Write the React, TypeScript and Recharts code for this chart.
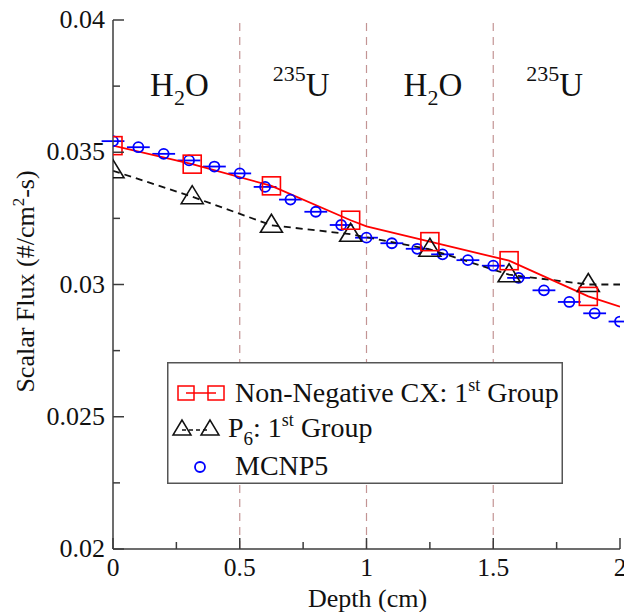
import {
  ComposedChart,
  ErrorBar,
  Legend,
  Line,
  ReferenceLine,
  Scatter,
  XAxis,
  YAxis,
} from "recharts";

const FONT = '"Liberation Serif", "DejaVu Serif", serif';
const AXIS_COLOR = "#3c3c3c";

const depthMajorTicks = [0, 0.5, 1, 1.5, 2];
const depthMinorTicks = [0.25, 0.75, 1.25, 1.75];
const depthTickLabels = ["0", "0.5", "1", "1.5", "2"];

const fluxMajorTicks = [0.02, 0.025, 0.03, 0.035, 0.04];
const fluxMinorTicks = [0.0225, 0.0275, 0.0325, 0.0375];
const fluxTickLabels = ["0.02", "0.025", "0.03", "0.035", "0.04"];

const regionEdges = [0.5, 1, 1.5];
const regionCenters = [0.25, 0.75, 1.25, 1.75];
const regionKinds = ["water", "uranium", "water", "uranium"];

// Non-Negative CX, 1st group: markers and the curve behind them
const cxDepth = [0, 0.3125, 0.625, 0.9375, 1.25, 1.5625, 1.875];
const cxFlux = [0.03525, 0.03455, 0.03373, 0.03243, 0.03162, 0.0309, 0.02955];
const cxCurveDepth = [0, 0.3125, 0.625, 0.9375, 1, 1.25, 1.5625, 1.875, 2];
const cxCurveFlux = [0.03525, 0.03455, 0.03373, 0.03243, 0.0322, 0.03162, 0.0309, 0.02955, 0.02916];

// P6, 1st group
const p6Depth = [0, 0.3125, 0.625, 0.9375, 1.25, 1.5625, 1.875];
const p6Flux = [0.0343, 0.03332, 0.03224, 0.0319, 0.03133, 0.03037, 0.03];
const p6CurveDepth = [0, 0.3125, 0.625, 0.9375, 1.25, 1.5625, 1.875, 2];
const p6CurveFlux = [0.0343, 0.03332, 0.03224, 0.0319, 0.03133, 0.03037, 0.03, 0.03];

// MCNP5 tallies
const mcnpDepth = [0, 0.1, 0.2, 0.3, 0.4, 0.5, 0.6, 0.7, 0.8, 0.9, 1, 1.1, 1.2, 1.3, 1.4, 1.5, 1.6, 1.7, 1.8, 1.9, 2];
const mcnpFlux = [
  0.03542, 0.03519, 0.03494, 0.03469, 0.03446, 0.0342, 0.03369, 0.03321, 0.03275, 0.03225, 0.03177,
  0.03156, 0.03135, 0.03114, 0.03092, 0.03071, 0.03025, 0.02978, 0.02934, 0.02891, 0.0286,
];
const mcnpBinHalfWidth = 0.045;

const cxPoints = cxDepth.map((depth, i) => ({ depth, flux: cxFlux[i] }));
const cxCurve = cxCurveDepth.map((depth, i) => ({ depth, flux: cxCurveFlux[i] }));
const p6Points = p6Depth.map((depth, i) => ({ depth, flux: p6Flux[i] }));
const p6Curve = p6CurveDepth.map((depth, i) => ({ depth, flux: p6CurveFlux[i] }));
const mcnpPoints = mcnpDepth.map((depth, i) => ({ depth, flux: mcnpFlux[i], err: mcnpBinHalfWidth }));

const depthTicks = [...depthMajorTicks, ...depthMinorTicks].sort((a, b) => a - b);
const fluxTicks = [...fluxMajorTicks, ...fluxMinorTicks].sort((a, b) => a - b);

interface TickProps {
  x?: number;
  y?: number;
  payload?: { value?: number };
}

function BottomTick({ x = 0, y = 0, payload }: TickProps) {
  const i = depthMajorTicks.indexOf(payload?.value as number);
  return (
    <g>
      <line x1={x} x2={x} y1={y} y2={y - (i >= 0 ? 11 : 7)} stroke={AXIS_COLOR} strokeWidth={1.5} />
      {i >= 0 && (
        <text x={x} y={y + 27} textAnchor="middle" fontFamily={FONT} fontSize={25.5} fill="#111">
          {depthTickLabels[i]}
        </text>
      )}
    </g>
  );
}

function TopTick({ x = 0, y = 0, payload }: TickProps) {
  const major = depthMajorTicks.includes(payload?.value as number);
  return <line x1={x} x2={x} y1={y} y2={y + (major ? 11 : 7)} stroke={AXIS_COLOR} strokeWidth={1.5} />;
}

function LeftTick({ x = 0, y = 0, payload }: TickProps) {
  const i = fluxMajorTicks.indexOf(payload?.value as number);
  return (
    <g>
      <line x1={x} x2={x + (i >= 0 ? 11 : 7)} y1={y} y2={y} stroke={AXIS_COLOR} strokeWidth={1.5} />
      {i >= 0 && (
        <text x={x - 8} y={y + 8} textAnchor="end" fontFamily={FONT} fontSize={26} fill="#111">
          {fluxTickLabels[i]}
        </text>
      )}
    </g>
  );
}

function RightTick({ x = 0, y = 0, payload }: TickProps) {
  const major = fluxMajorTicks.includes(payload?.value as number);
  return <line x1={x} x2={x - (major ? 11 : 7)} y1={y} y2={y} stroke={AXIS_COLOR} strokeWidth={1.5} />;
}

interface ViewBoxProps {
  viewBox?: { x?: number; y?: number; width?: number; height?: number };
}

function XTitle({ viewBox }: ViewBoxProps) {
  const { x = 0, y = 0, width = 0 } = viewBox ?? {};
  return (
    <text x={x + width / 2 + 1} y={y + 58} textAnchor="middle" fontFamily={FONT} fontSize={26} fill="#111">
      Depth (cm)
    </text>
  );
}

function YTitle({ viewBox }: ViewBoxProps) {
  const { y = 0, height = 0 } = viewBox ?? {};
  const cy = y + height / 2 - 3;
  return (
    <text
      x={34}
      y={cy}
      transform={`rotate(-90, 34, ${cy})`}
      textAnchor="middle"
      fontFamily={FONT}
      fontSize={26}
      fill="#111"
    >
      Scalar Flux (#/cm
      <tspan fontSize={17} dy={-10}>2</tspan>
      <tspan dy={10}>-s)</tspan>
    </text>
  );
}

function RegionLabel({ viewBox, kind }: ViewBoxProps & { kind?: string }) {
  const { x = 0, y = 0 } = viewBox ?? {};
  const base = y + 76;
  if (kind === "water") {
    return (
      <text x={x + 3} y={base} textAnchor="middle" fontFamily={FONT} fontSize={33} fill="#111">
        H
        <tspan fontSize={22} dy={9}>2</tspan>
        <tspan dy={-9}>O</tspan>
      </text>
    );
  }
  return (
    <text x={x - 2} y={base} textAnchor="middle" fontFamily={FONT} fontSize={33} fill="#111">
      <tspan fontSize={22} dy={-15}>235</tspan>
      <tspan dy={15}>U</tspan>
    </text>
  );
}

function FluxLegend() {
  return (
    <svg width={396} height={122} style={{ display: "block" }}>
      <rect x={0.75} y={0.75} width={394.5} height={120.5} fill="#fff" stroke="#555" strokeWidth={1.5} />
      <line x1={19} x2={49} y1={31} y2={31} stroke="#ff0000" strokeWidth={1.5} />
      <rect x={11} y={24} width={16} height={14} fill="none" stroke="#ff0000" strokeWidth={1.5} />
      <rect x={41} y={24} width={16} height={14} fill="none" stroke="#ff0000" strokeWidth={1.5} />
      <text x={68} y={40} fontFamily={FONT} fontSize={28} fill="#111">
        Non-Negative CX: 1<tspan fontSize={18} dy={-11}>st</tspan>
        <tspan dy={11}> Group</tspan>
      </text>
      <line x1={15} x2={43} y1={68} y2={68} stroke="#111" strokeWidth={1.5} strokeDasharray="4 3" />
      <path d="M15 58 L6 73 L24 73 Z" fill="none" stroke="#111" strokeWidth={1.5} />
      <path d="M43 58 L34 73 L52 73 Z" fill="none" stroke="#111" strokeWidth={1.5} />
      <text x={61} y={75} fontFamily={FONT} fontSize={28} fill="#111">
        P<tspan fontSize={19} dy={8}>6</tspan>
        <tspan dy={-8}>: 1</tspan>
        <tspan fontSize={18} dy={-11}>st</tspan>
        <tspan dy={11}> Group</tspan>
      </text>
      <circle cx={33} cy={105} r={5} fill="none" stroke="#0000ff" strokeWidth={1.8} />
      <text x={68} y={113} fontFamily={FONT} fontSize={28} fill="#111">
        MCNP5
      </text>
    </svg>
  );
}

interface ShapeProps {
  cx?: number;
  cy?: number;
}

function SquareMark({ cx = 0, cy = 0 }: ShapeProps) {
  return <rect x={cx - 9} y={cy - 9} width={18} height={18} fill="none" stroke="#ff0000" strokeWidth={1.6} />;
}

function TriangleMark({ cx = 0, cy = 0 }: ShapeProps) {
  return (
    <path
      d={`M${cx} ${cy - 11} L${cx - 11} ${cy + 7} L${cx + 11} ${cy + 7} Z`}
      fill="none"
      stroke="#111"
      strokeWidth={1.6}
    />
  );
}

function CircleMark({ cx = 0, cy = 0 }: ShapeProps) {
  return <circle cx={cx} cy={cy} r={5} fill="none" stroke="#0000ff" strokeWidth={1.8} />;
}

export default function App() {
  return (
    <div style={{ position: "absolute", left: 0, top: 0, width: 624, height: 612, background: "#fff" }}>
      <ComposedChart width={624} height={612} margin={{ top: 20, right: 4, bottom: 0, left: 0 }}>
        <XAxis
          xAxisId="bottom"
          type="number"
          dataKey="depth"
          domain={[0, 2]}
          ticks={depthTicks}
          interval={0}
          allowDataOverflow
          height={63}
          tickSize={0}
          tickMargin={0}
          axisLine={{ stroke: AXIS_COLOR, strokeWidth: 1.5 }}
          tick={<BottomTick />}
          label={<XTitle />}
        />
        <XAxis
          xAxisId="top"
          orientation="top"
          type="number"
          dataKey="depth"
          domain={[0, 2]}
          ticks={depthTicks}
          interval={0}
          allowDataOverflow
          height={0}
          tickSize={0}
          tickMargin={0}
          axisLine={{ stroke: AXIS_COLOR, strokeWidth: 1.5 }}
          tick={<TopTick />}
        />
        <YAxis
          yAxisId="left"
          type="number"
          domain={[0.02, 0.04]}
          ticks={fluxTicks}
          interval={0}
          allowDataOverflow
          width={113}
          tickSize={0}
          tickMargin={0}
          axisLine={{ stroke: AXIS_COLOR, strokeWidth: 1.5 }}
          tick={<LeftTick />}
          label={<YTitle />}
        />
        <YAxis
          yAxisId="right"
          orientation="right"
          type="number"
          domain={[0.02, 0.04]}
          ticks={fluxTicks}
          interval={0}
          allowDataOverflow
          width={0}
          tickSize={0}
          tickMargin={0}
          axisLine={{ stroke: AXIS_COLOR, strokeWidth: 1.5 }}
          tick={<RightTick />}
        />

        {regionEdges.map((edge) => (
          <ReferenceLine
            key={`edge-${edge}`}
            xAxisId="bottom"
            yAxisId="left"
            x={edge}
            stroke="#c39494"
            strokeWidth={1.2}
            strokeDasharray="8 6"
          />
        ))}
        {regionCenters.map((center, i) => (
          <ReferenceLine
            key={`region-${center}`}
            xAxisId="bottom"
            yAxisId="left"
            x={center}
            strokeOpacity={0}
            label={<RegionLabel kind={regionKinds[i]} />}
          />
        ))}

        <Scatter
          name="MCNP5"
          data={mcnpPoints}
          dataKey="flux"
          xAxisId="bottom"
          yAxisId="left"
          shape={<CircleMark />}
          isAnimationActive={false}
        >
          <ErrorBar dataKey="err" direction="x" width={0} stroke="#0000ff" strokeWidth={1.8} isAnimationActive={false} />
        </Scatter>

        <Line
          data={p6Curve}
          dataKey="flux"
          xAxisId="bottom"
          yAxisId="left"
          type="linear"
          stroke="#111"
          strokeWidth={1.8}
          strokeDasharray="7 5"
          dot={false}
          activeDot={false}
          legendType="none"
          isAnimationActive={false}
        />
        <Scatter
          name="P6"
          data={p6Points}
          dataKey="flux"
          xAxisId="bottom"
          yAxisId="left"
          shape={<TriangleMark />}
          isAnimationActive={false}
        />

        <Line
          data={cxCurve}
          dataKey="flux"
          xAxisId="bottom"
          yAxisId="left"
          type="linear"
          stroke="#ff0000"
          strokeWidth={1.8}
          dot={false}
          activeDot={false}
          legendType="none"
          isAnimationActive={false}
        />
        <Scatter
          name="Non-Negative CX"
          data={cxPoints}
          dataKey="flux"
          xAxisId="bottom"
          yAxisId="left"
          shape={<SquareMark />}
          isAnimationActive={false}
        />

        <Legend
          layout="vertical"
          align="center"
          verticalAlign="middle"
          content={<FluxLegend />}
          wrapperStyle={{ left: 167, top: 362, width: 396, height: 122 }}
        />
      </ComposedChart>
    </div>
  );
}
